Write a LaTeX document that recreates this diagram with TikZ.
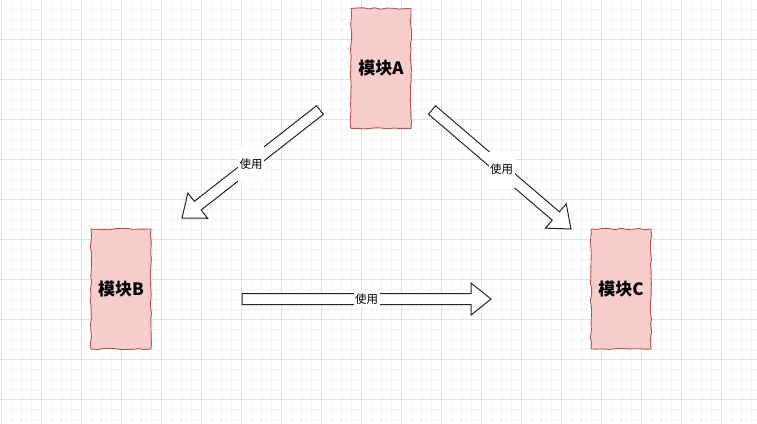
\documentclass[tikz,border=0pt]{standalone}
\usepackage{fontspec}
\newfontfamily\cjk{Noto Sans CJK SC}
\usetikzlibrary{calc,decorations.pathmorphing}
\definecolor{boxfill}{HTML}{F8CECC}
\definecolor{boxline}{HTML}{B85450}
\definecolor{gridmajor}{HTML}{E2E2E2}
\definecolor{gridminor}{HTML}{F4F4F4}
\tikzset{
  box/.style={draw=boxline, fill=boxfill, line width=0.9pt, minimum width=60pt, minimum height=120pt,
    inner sep=0pt, font=\cjk\bfseries\fontsize{17}{17}\selectfont,
    decorate, decoration={random steps, segment length=6pt, amplitude=0.7pt}},
  arrowlabel/.style={fill=white, minimum width=26pt, minimum height=36pt, inner sep=0pt,
    font=\cjk\fontsize{11.5}{11.5}\selectfont},
  blockarrow/.style={draw=black!85, fill=white, line width=1pt, line join=miter},
}
\newcommand\blockarr[2]{%
  \draw[blockarrow]
    ($(#1)!5.5pt!90:(#2)$) --
    ($($(#2)!20pt!(#1)$)!5.5pt!-90:(#1)$) --
    ($($(#2)!20pt!(#1)$)!16pt!-90:(#1)$) --
    (#2) --
    ($($(#2)!20pt!(#1)$)!16pt!90:(#1)$) --
    ($($(#2)!20pt!(#1)$)!5.5pt!90:(#1)$) --
    ($(#1)!5.5pt!-90:(#2)$) -- cycle;
}
\begin{document}
\begin{tikzpicture}[x=1pt,y=-1pt]
\pgfmathsetseed{7}
\useasboundingbox (0,0) rectangle (757,423);
\fill[white] (0,0) rectangle (757,423);
% grid
\foreach \x in {11,21,...,751} \draw[gridminor, line width=0.8pt] (\x,0) -- (\x,423);
\foreach \y in {9,19,...,419} \draw[gridminor, line width=0.8pt] (0,\y) -- (757,\y);
\foreach \x in {1,41,...,757} \draw[gridmajor, line width=0.9pt] (\x,0) -- (\x,423);
\foreach \y in {39,79,...,423} \draw[gridmajor, line width=0.9pt] (0,\y) -- (757,\y);
% boxes
\node[box] (A) at (381,68.5) {模块A};
\node[box] (B) at (121,289) {模块B};
\node[box] (C) at (621,289) {模块C};
% arrow end points
\coordinate (ab1) at (320,110);
\coordinate (ab2) at (182,218);
\coordinate (ac1) at (432,110);
\coordinate (ac2) at (571,229);
\coordinate (bc1) at (242,299);
\coordinate (bc2) at (491,299);
\blockarr{ab1}{ab2}
\blockarr{ac1}{ac2}
\blockarr{bc1}{bc2}
\node[arrowlabel] (l1) at ($(ab1)!0.5!(ab2)$) {使用};
\node[arrowlabel] (l2) at ($(ac1)!0.5!(ac2)$) {使用};
\node[arrowlabel, minimum height=14pt] (l3) at ($(bc1)!0.5!(bc2)$) {使用};
\end{tikzpicture}
\end{document}
